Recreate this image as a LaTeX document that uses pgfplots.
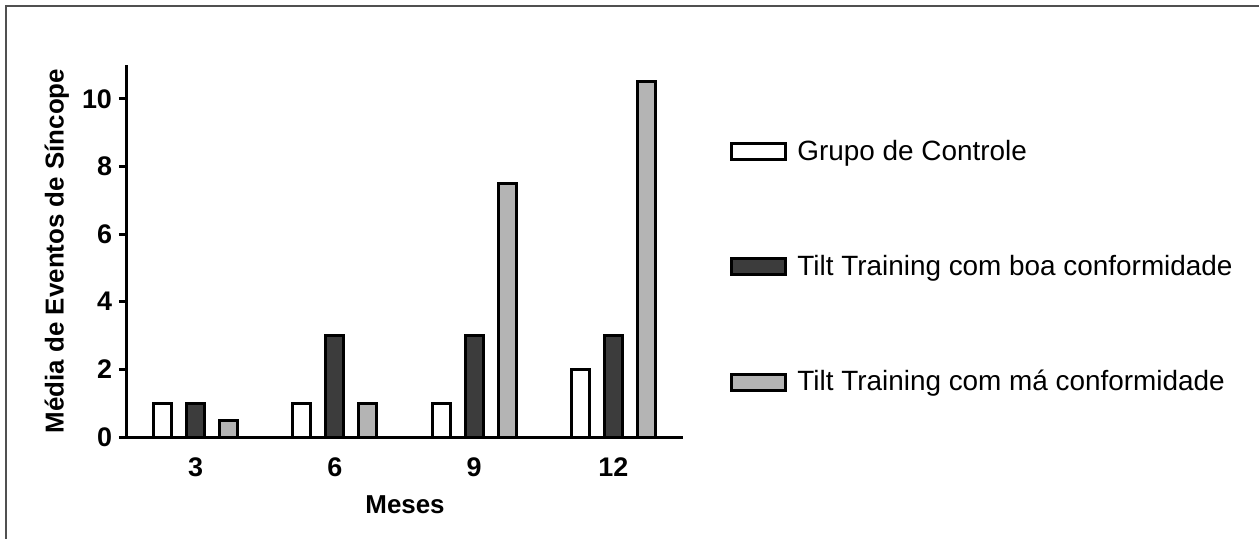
\documentclass[border=0pt]{standalone}
\usepackage{fontspec}
\setmainfont{Liberation Sans}
\usepackage{pgfplots}
\pgfplotsset{compat=1.18}
\definecolor{darkbar}{HTML}{3C3C3C}
\definecolor{lightbar}{HTML}{B4B4B4}
\definecolor{framec}{HTML}{505050}
\begin{document}
\begin{tikzpicture}
\useasboundingbox (0,0) rectangle (629.5bp,269.5bp);
\fill[white] (0,0) rectangle (629.5bp,269.5bp);
\draw[line width=1bp, framec] (3bp,0) -- (3bp,266.5bp) -- (629.5bp,266.5bp);
\begin{axis}[
  at={(63bp,51bp)}, anchor=south west,
  scale only axis, width=278.5bp, height=186bp,
  xmin=-0.5, xmax=3.5, ymin=0, ymax=11,
  axis x line=bottom, axis y line=left,
  axis line style={-, line width=1.5bp, black},
  xtick={0,1,2,3}, xticklabels={3,6,9,12},
  xtick align=inside,
  x tick style={draw=none},
  ytick={0,2,4,6,8,10},
  ytick align=outside,
  y tick style={line width=1.5bp, black},
  major tick length=3.5bp,
  /pgf/number format/assume math mode=true,
  tick label style={font=\bfseries\fontsize{13.5}{15}\selectfont},
  xticklabel style={anchor=center, yshift=-11.5bp},
  xlabel={Meses},
  ylabel={Média de Eventos de Síncope},
  every axis x label/.style={at={(axis description cs:0.501,-0.183)}, anchor=center,
    font=\bfseries\fontsize{13}{15}\selectfont},
  every axis y label/.style={at={(axis description cs:-0.124,0.5)}, rotate=90, anchor=center,
    font=\bfseries\fontsize{13}{15}\selectfont},
  ybar=7.5bp, bar width=9bp,
  clip=false,
  legend image code/.code={\draw[#1] (0bp,-4bp) rectangle (27bp,4bp);},
  legend style={at={(axis description cs:1.0844,0.81)}, anchor=north west,
    draw=none, fill=none, inner sep=0pt, row sep=42bp, column sep=3bp,
    cells={anchor=west},
    font=\fontsize{14}{16}\selectfont},
  legend cell align=left,
]
\addplot[draw=black, line width=1.5bp, fill=white] coordinates {(0,1) (1,1) (2,1) (3,2)};
\addplot[draw=black, line width=1.5bp, fill=darkbar] coordinates {(0,1) (1,3) (2,3) (3,3)};
\addplot[draw=black, line width=1.5bp, fill=lightbar] coordinates {(0,0.5) (1,1) (2,7.5) (3,10.5)};
\legend{Grupo de Controle, Tilt Training com boa conformidade, Tilt Training com má conformidade}
\end{axis}
\end{tikzpicture}
\end{document}
